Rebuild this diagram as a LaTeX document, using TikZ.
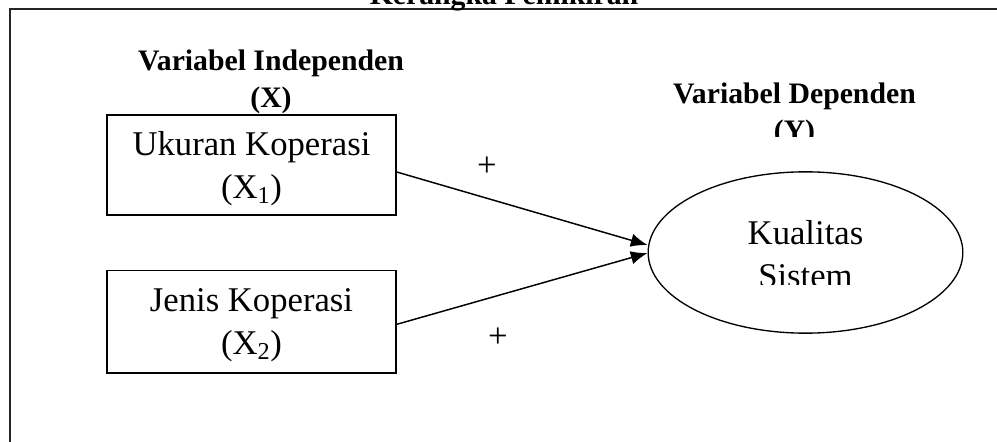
\documentclass[tikz,border=0pt]{standalone}
\usepackage{fontspec}
\setmainfont{Liberation Serif}
\usetikzlibrary{shapes}
\usetikzlibrary{positioning}
\usetikzlibrary{arrows.meta}

\begin{document}
\begin{tikzpicture}[
    x=0.75pt, y=-0.75pt,
    >={Latex[length=12.5pt,width=10pt]},
    every node/.style={font=\fontsize{26}{32.25}\selectfont},
    heading/.style={font=\fontsize{22.3}{27.75}\selectfont\bfseries, align=center, inner sep=0pt},
    varbox/.style={draw, line width=1.1pt, minimum width=216.75pt, minimum height=75pt, align=center, inner sep=0pt, text depth=0pt},
    effect/.style={draw, ellipse, line width=1pt, minimum width=236pt, minimum height=121pt, inner sep=0pt},
    link/.style={->, line width=1.1pt}
]
\clip (0,0) rectangle (997,442);
% bingkai luar
\draw[line width=1.6pt, black!85] (10,9) rectangle (1030,480);
\node[heading, anchor=base] (judul) at (504,5) {Kerangka Pemikiran};

% variabel independen
\node[heading, anchor=north] (headX) at (271,50) {Variabel Independen\\(X)};
\node[varbox] (ukuran) at (251.5,165) {Ukuran Koperasi\\(X\textsubscript{1})};
\node[varbox, minimum height=77pt, below=40.5pt of ukuran] (jenis) {Jenis Koperasi\\(X\textsubscript{2})};

% variabel dependen
\begin{scope}
  \clip (600,60) rectangle (997,137);
  \node[heading, anchor=north] (headY) at (794.5,83) {Variabel Dependen\\(Y)};
\end{scope}
\node[effect] (kualitas) at (805.5,252.5) {};
\begin{scope}
  \clip (700,200) rectangle (910,285);
  \node[align=center, inner sep=0pt] (kualitasTeks) at ([yshift=-1pt]kualitas.center) {Kualitas\\Sistem};
\end{scope}

% hubungan
\draw[link] ([yshift=-5.25pt]ukuran.east) -- ([yshift=5.6pt]kualitas.west);
\draw[link] ([yshift=-1.9pt]jenis.east) -- ([yshift=-0.4pt]kualitas.west);
\node (plusA) at (487,167) {+};
\node (plusB) at (498,338) {+};
\end{tikzpicture}
\end{document}
